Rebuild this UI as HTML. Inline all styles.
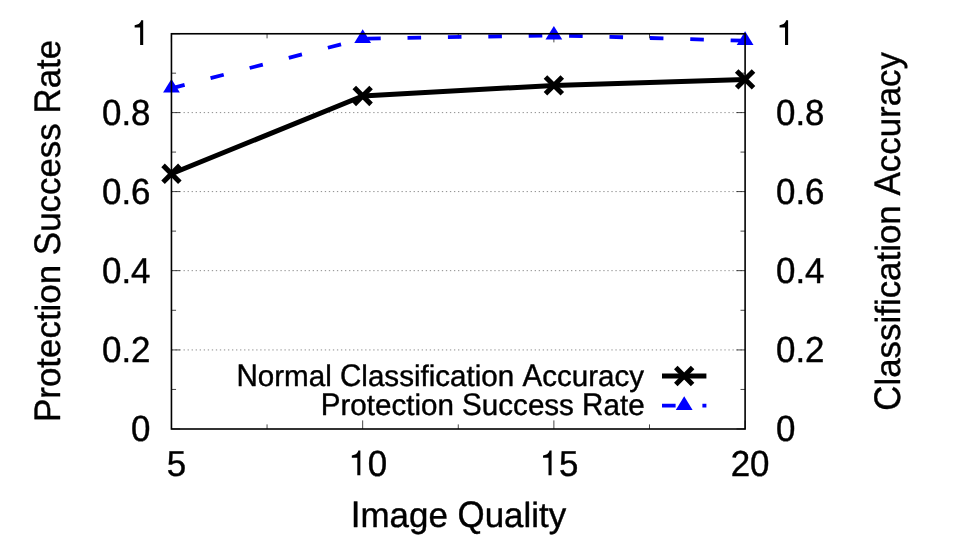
<!DOCTYPE html>
<html><head><meta charset="utf-8"><title>chart</title>
<style>html,body{margin:0;padding:0;background:#fff;}svg{display:block;will-change:transform;}text{font-family:"Liberation Sans",sans-serif;fill:#000;stroke:#000;stroke-width:0.4px;stroke-linejoin:round;font-kerning:none;font-variant-ligatures:none;text-rendering:geometricPrecision;}</style>
</head><body>
<svg width="969" height="541" viewBox="0 0 969 541">
<rect x="0" y="0" width="969" height="541" fill="#ffffff"/>
<g stroke="#707070" stroke-width="0.8" stroke-dasharray="1.3 2.736" fill="none">
<path d="M171.45 349.93H745.10"/>
<path d="M171.45 270.65H745.10"/>
<path d="M171.45 191.58H745.10"/>
<path d="M171.45 112.60H745.10"/>
</g>
<g stroke="#000" stroke-width="0.72" fill="none">
<path d="M171.45 428.95h8.6M745.10 428.95h-8.6"/>
<path d="M171.45 389.44h4.6M745.10 389.44h-4.6"/>
<path d="M171.45 349.93h8.6M745.10 349.93h-8.6"/>
<path d="M171.45 310.29h4.6M745.10 310.29h-4.6"/>
<path d="M171.45 270.65h8.6M745.10 270.65h-8.6"/>
<path d="M171.45 231.12h4.6M745.10 231.12h-4.6"/>
<path d="M171.45 191.58h8.6M745.10 191.58h-8.6"/>
<path d="M171.45 152.09h4.6M745.10 152.09h-4.6"/>
<path d="M171.45 112.60h8.6M745.10 112.60h-8.6"/>
<path d="M171.45 73.18h4.6M745.10 73.18h-4.6"/>
<path d="M171.45 33.76h8.6M745.10 33.76h-8.6"/>
<path d="M171.45 429.00v-8.6M171.45 33.76v8.6"/>
<path d="M267.06 429.00v-4.6M267.06 33.76v4.6"/>
<path d="M362.67 429.00v-8.6M362.67 33.76v8.6"/>
<path d="M458.28 429.00v-4.6M458.28 33.76v4.6"/>
<path d="M553.88 429.00v-8.6M553.88 33.76v8.6"/>
<path d="M649.49 429.00v-4.6M649.49 33.76v4.6"/>
<path d="M745.10 429.00v-8.6M745.10 33.76v8.6"/>
</g>
<text transform="translate(131.09 441.20) scale(1 1.035)" font-size="34.9">0</text>
<text transform="translate(776.00 441.20) scale(1 1.035)" font-size="34.9">0</text>
<text transform="translate(101.98 362.15) scale(1 1.035)" font-size="34.9">0.2</text>
<text transform="translate(776.00 362.15) scale(1 1.035)" font-size="34.9">0.2</text>
<text transform="translate(101.98 283.10) scale(1 1.035)" font-size="34.9">0.4</text>
<text transform="translate(776.00 283.10) scale(1 1.035)" font-size="34.9">0.4</text>
<text transform="translate(101.98 204.06) scale(1 1.035)" font-size="34.9">0.6</text>
<text transform="translate(776.00 204.06) scale(1 1.035)" font-size="34.9">0.6</text>
<text transform="translate(101.98 125.01) scale(1 1.035)" font-size="34.9">0.8</text>
<text transform="translate(776.00 125.01) scale(1 1.035)" font-size="34.9">0.8</text>
<path d="M259 0H347V709H289C273 648 236 611 196 593C166 579 135 572 102 568V505H259Z" fill="#000" transform="translate(131.09 45.06) scale(0.03490 -0.03490)"/>
<path d="M259 0H347V709H289C273 648 236 611 196 593C166 579 135 572 102 568V505H259Z" fill="#000" transform="translate(776.00 45.06) scale(0.03490 -0.03490)"/>
<text transform="translate(166.75 475.60) scale(1 1.035)" font-size="34.9">5</text>
<path d="M259 0H347V709H289C273 648 236 611 196 593C166 579 135 572 102 568V505H259Z" fill="#000" transform="translate(348.26 475.30) scale(0.03490 -0.03490)"/><text transform="translate(367.67 475.60) scale(1 1.035)" font-size="34.9">0</text>
<path d="M259 0H347V709H289C273 648 236 611 196 593C166 579 135 572 102 568V505H259Z" fill="#000" transform="translate(539.47 475.30) scale(0.03490 -0.03490)"/><text transform="translate(558.88 475.60) scale(1 1.035)" font-size="34.9">5</text>
<text transform="translate(730.69 475.60) scale(1 1.035)" font-size="34.9">20</text>
<g font-size="34.9">
<g transform="translate(458.5 527.2)"><text transform="translate(-107.66 0) scale(1 1.06)">I</text><text x="-97.96" y="0">mage</text><text transform="translate(-0.96 0) scale(1 1.06)">Q</text><text x="26.18" y="0">uality</text></g>
<g transform="translate(60.4 230.9) rotate(-90)"><text transform="translate(-191.07 0) scale(1 1.06)">P</text><text x="-167.79" y="0">rotection</text><text transform="translate(-24.24 0) scale(1 1.06)">S</text><text x="-0.96" y="0">uccess</text><text transform="translate(117.35 0) scale(1 1.06)">R</text><text x="142.56" y="0">ate</text></g>
<g transform="translate(899.9 231.4) rotate(-90)"><text transform="translate(-179.41 0) scale(1 1.06)">C</text><text x="-154.20" y="0">lassification</text><text transform="translate(35.89 0) scale(1 1.06)">A</text><text x="59.17" y="0">ccuracy</text></g>
</g>
<g font-size="29.58" style="stroke-width:0.3px">
<g transform="translate(644.1 386.1)"><text transform="translate(-407.66 0) scale(1 1.06)">N</text><text x="-386.30" y="0">ormal</text><text transform="translate(-304.12 0) scale(1 1.06)">C</text><text x="-282.76" y="0">lassification</text><text transform="translate(-121.64 0) scale(1 1.06)">A</text><text x="-101.91" y="0">ccuracy</text></g>
<g transform="translate(644.6 415.2)"><text transform="translate(-323.89 0) scale(1 1.06)">P</text><text x="-304.16" y="0">rotection</text><text transform="translate(-182.49 0) scale(1 1.06)">S</text><text x="-162.76" y="0">uccess</text><text transform="translate(-62.48 0) scale(1 1.06)">R</text><text x="-41.12" y="0">ate</text></g>
</g>
<polyline points="171.45,88.30 362.67,38.70 553.88,35.34 745.10,40.68" fill="none" stroke="#0000ff" stroke-width="3.8" stroke-dasharray="13.6 26.8" stroke-linejoin="round"/>
<polyline points="171.45,173.79 362.67,95.97 553.88,85.38 745.10,79.45" fill="none" stroke="#000" stroke-width="5" stroke-linejoin="round"/>
<path d="M171.45 78.90L163.05 92.50L179.85 92.50Z" fill="#0000ff" stroke="none"/>
<path d="M362.67 29.29L354.27 42.90L371.07 42.90Z" fill="#0000ff" stroke="none"/>
<path d="M553.88 25.93L545.48 39.54L562.28 39.54Z" fill="#0000ff" stroke="none"/>
<path d="M745.10 31.27L736.70 44.88L753.50 44.88Z" fill="#0000ff" stroke="none"/>
<path d="M163.05 165.39L179.85 182.19M163.05 182.19L179.85 165.39" stroke="#000" stroke-width="5" fill="none"/>
<path d="M354.27 87.57L371.07 104.37M354.27 104.37L371.07 87.57" stroke="#000" stroke-width="5" fill="none"/>
<path d="M545.48 76.98L562.28 93.78M545.48 93.78L562.28 76.98" stroke="#000" stroke-width="5" fill="none"/>
<path d="M736.70 71.05L753.50 87.85M736.70 87.85L753.50 71.05" stroke="#000" stroke-width="5" fill="none"/>
<path d="M662 376H706.4" stroke="#000" stroke-width="5" fill="none"/>
<path d="M675.80 367.60L692.60 384.40M675.80 384.40L692.60 367.60" stroke="#000" stroke-width="5" fill="none"/>
<path d="M662 405.7H706.4" stroke="#0000ff" stroke-width="3.8" stroke-dasharray="13.6 26.8" fill="none"/>
<path d="M684.20 396.29L675.80 409.90L692.60 409.90Z" fill="#0000ff" stroke="none"/>
<rect x="171.45" y="33.76" width="573.65" height="395.24" fill="none" stroke="#000" stroke-width="1.6"/>
</svg>
</body></html>
